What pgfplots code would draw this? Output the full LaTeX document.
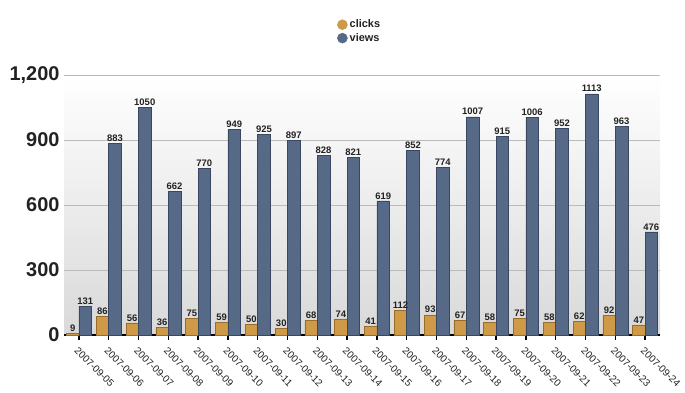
\documentclass[border=0pt]{standalone}
\usepackage{fontspec}
\setmainfont{Liberation Sans}
\usepackage{pgfplots}
\pgfplotsset{compat=1.18}
\definecolor{clk}{HTML}{CF9A47}
\definecolor{clkd}{HTML}{9A6C2A}
\definecolor{vw}{HTML}{566A88}
\definecolor{vwd}{HTML}{3A4760}
\definecolor{gridc}{HTML}{BBBBBB}
\definecolor{txt}{HTML}{222222}
\begin{document}
\begin{tikzpicture}
\useasboundingbox (0,0) rectangle (685bp,393bp);
\begin{axis}[
  at={(64bp,58bp)}, anchor=south west,
  scale only axis, width=596bp, height=260bp,
  xmin=-0.5, xmax=19.5, ymin=0, ymax=1200,
  ybar=0pt, bar width=12.5bp,
  clip=false,
  axis background/.style={top color=white, bottom color=black!15},
  ytick={0,300,600,900,1200},
  xtick={0,...,19},
  xticklabels={2007-09-05,2007-09-06,2007-09-07,2007-09-08,2007-09-09,2007-09-10,2007-09-11,2007-09-12,2007-09-13,2007-09-14,2007-09-15,2007-09-16,2007-09-17,2007-09-18,2007-09-19,2007-09-20,2007-09-21,2007-09-22,2007-09-23,2007-09-24},
  ymajorgrids, grid style={gridc, line width=0.6bp},
  axis x line=bottom, axis y line=left,
  axis line style={-},
  x axis line style={line width=2bp, black},
  y axis line style={draw=none},
  ytick style={draw=none},
  xtick style={black, line width=1.5bp},
  tick align=outside, major tick length=5bp,
  /pgf/number format/.cd, 1000 sep={,}, assume math mode=true, /pgfplots/.cd,
  yticklabel style={font=\fontsize{20}{22}\selectfont\bfseries, text=txt, xshift=4bp},
  xticklabel style={rotate=-45, anchor=north west, font=\fontsize{10}{12}\selectfont, text=txt, inner sep=1bp, xshift=3.5bp, yshift=-3.5bp},
  nodes near coords={\pgfmathprintnumber[1000 sep={}]{\pgfplotspointmeta}},
  every node near coord/.append style={font=\fontsize{9.5}{11}\selectfont\bfseries, text=txt, inner sep=1.5bp},
  legend style={at={(0.458,1.22)}, anchor=north west, draw=none, fill=none, font=\fontsize{11}{13}\selectfont\bfseries, text=txt, inner sep=0pt, row sep=0bp},
  legend cell align=left,
]
\addplot[fill=clk, draw=clkd, line width=0.5bp,
  legend image code/.code={\fill[clk] (4bp,0bp) circle (5bp);}]
  coordinates {(0,9)(1,86)(2,56)(3,36)(4,75)(5,59)(6,50)(7,30)(8,68)(9,74)(10,41)(11,112)(12,93)(13,67)(14,58)(15,75)(16,58)(17,62)(18,92)(19,47)};
\addlegendentry{clicks}
\addplot[fill=vw, draw=vwd, line width=0.5bp,
  legend image code/.code={\fill[vw] (4bp,0bp) circle (5bp);}]
  coordinates {(0,131)(1,883)(2,1050)(3,662)(4,770)(5,949)(6,925)(7,897)(8,828)(9,821)(10,619)(11,852)(12,774)(13,1007)(14,915)(15,1006)(16,952)(17,1113)(18,963)(19,476)};
\addlegendentry{views}
\end{axis}
\end{tikzpicture}
\end{document}
